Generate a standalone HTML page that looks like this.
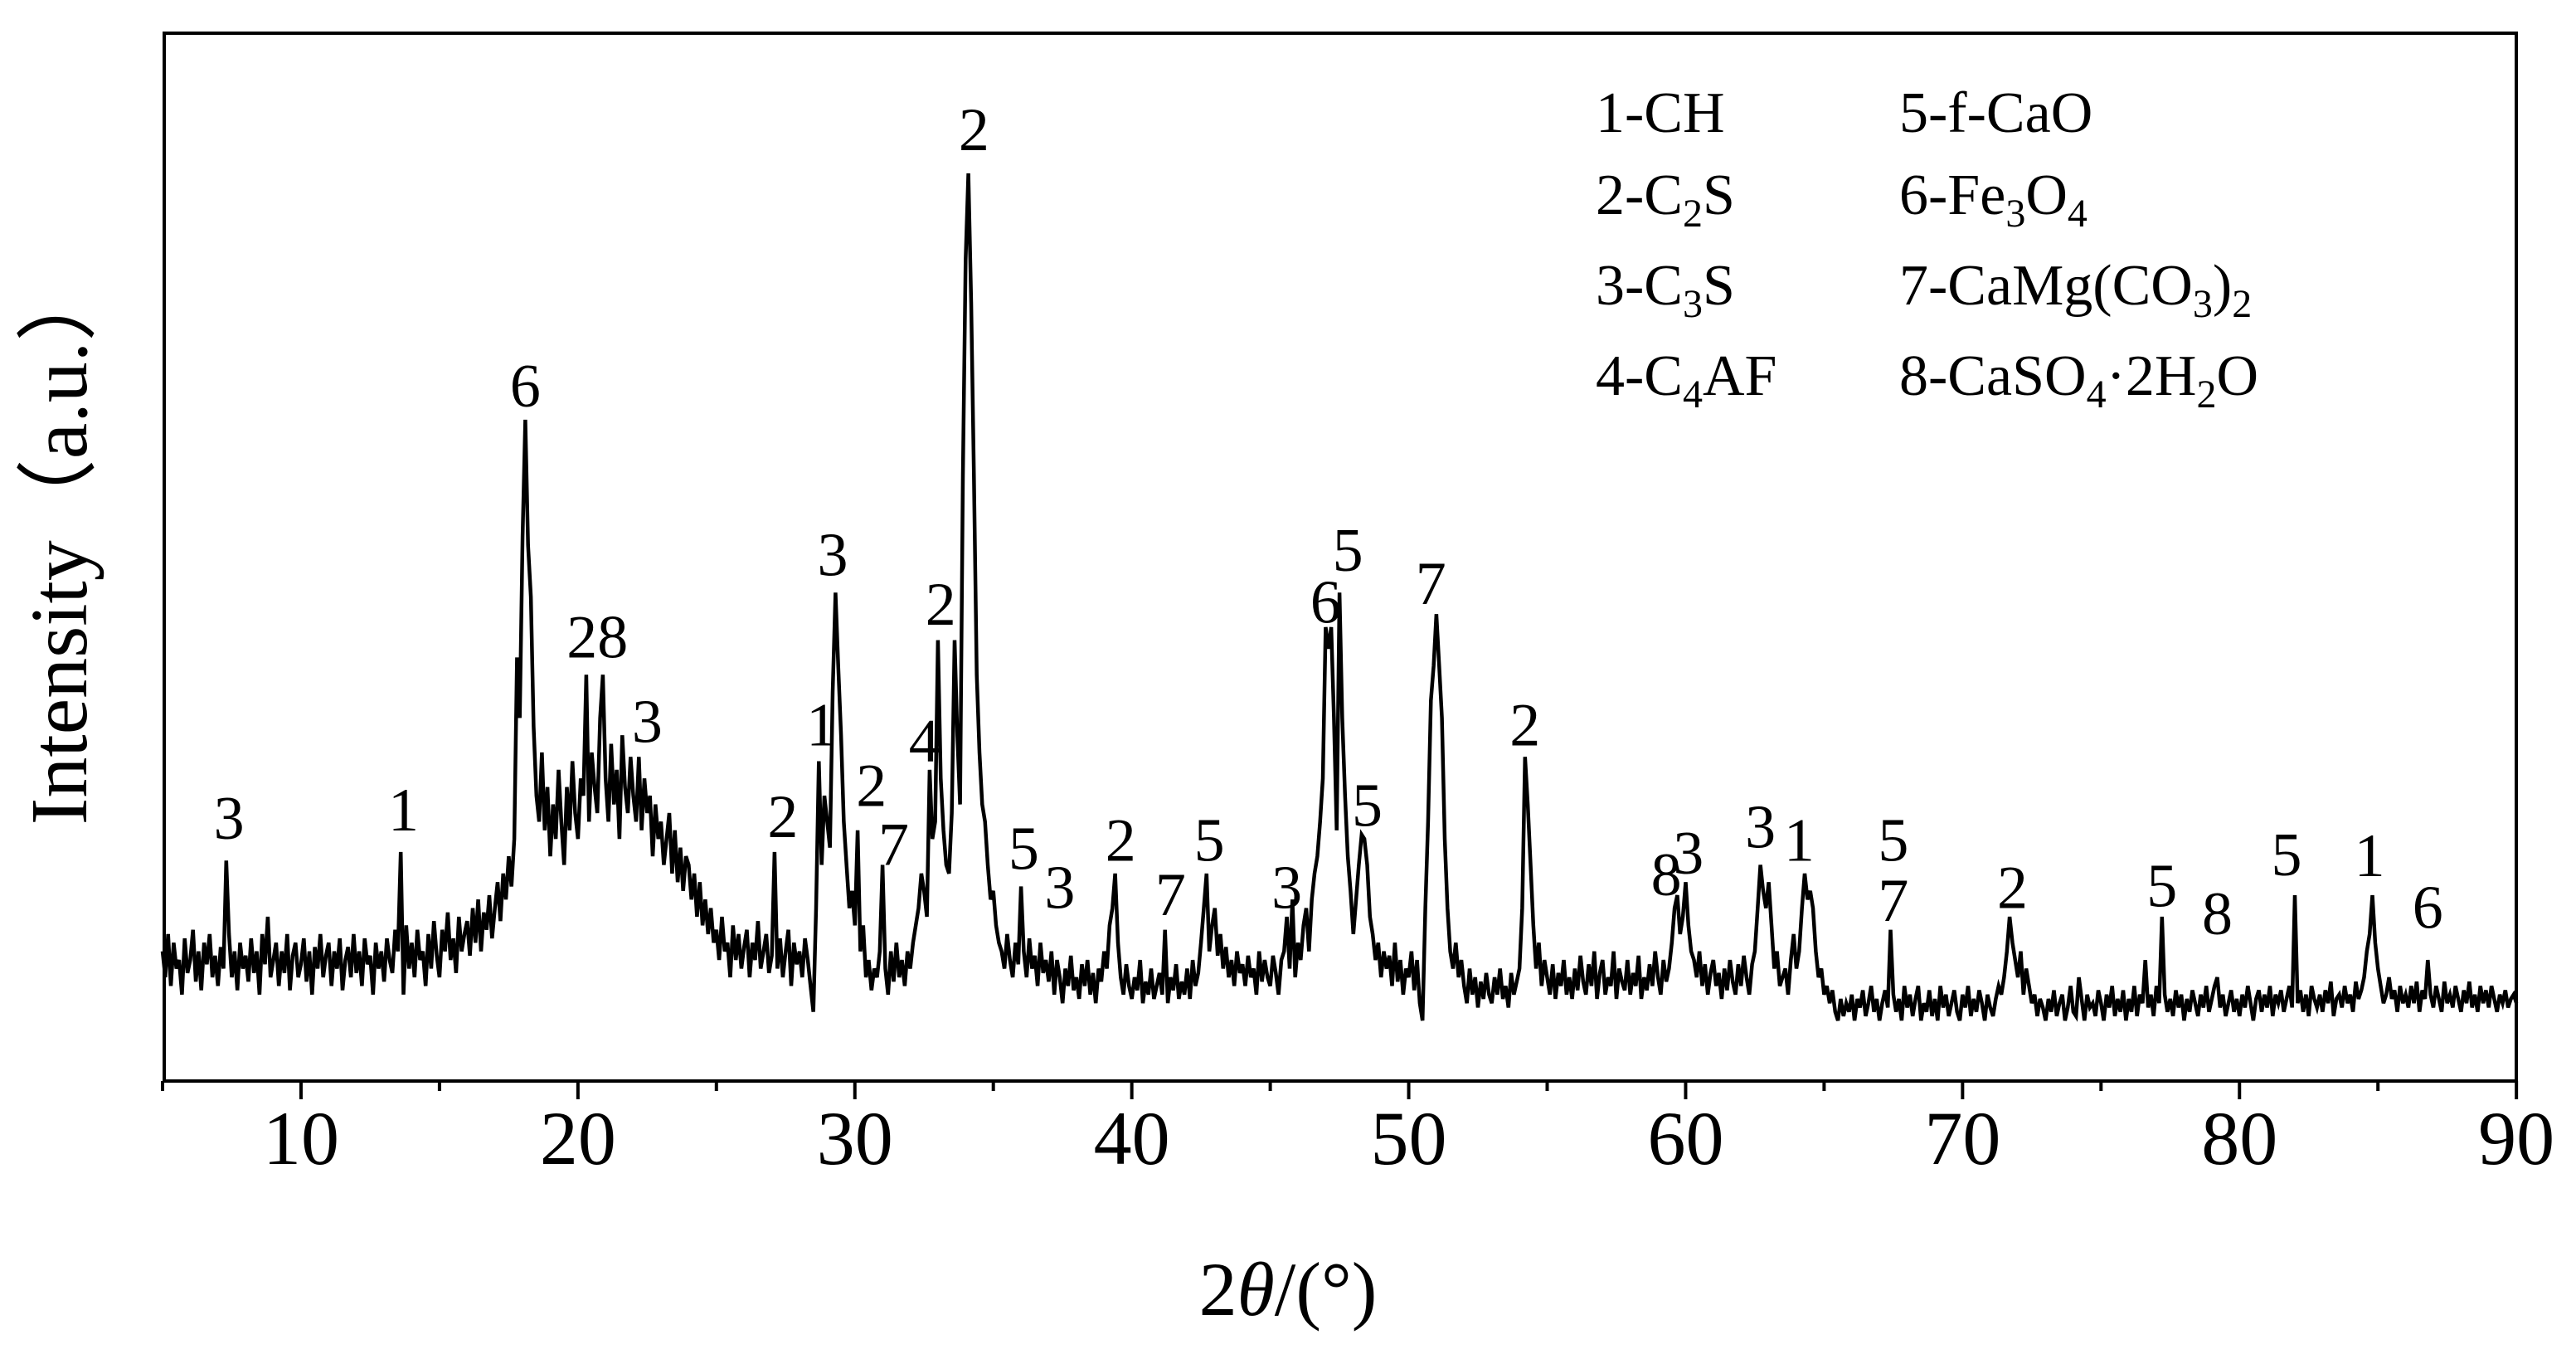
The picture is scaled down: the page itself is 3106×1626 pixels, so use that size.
<!DOCTYPE html>
<html><head><meta charset="utf-8"><style>
html,body{margin:0;padding:0;background:#fff;}
svg{display:block;font-family:"Liberation Serif","Times New Roman",serif;}
</style></head><body>
<svg id="chart" width="3106" height="1626" viewBox="0 0 3106 1626">
<rect x="0" y="0" width="3106" height="1626" fill="#fff"/>
<g id="plot"></g>
<rect x="198" y="40" width="2836" height="1263" fill="none" stroke="#000" stroke-width="4"/>
<g id="xaxis"></g>
<g id="labels"></g>
<text x="1553" y="1585" font-size="92" text-anchor="middle">2<tspan font-style="italic">θ</tspan>/(°)</text>
<text transform="translate(104,654) rotate(-90)" font-size="98" text-anchor="middle">Intensity（a.u.）</text>
<g font-size="70">
<text x="1924" y="159">1-CH</text>
<text x="1924" y="258">2-C<tspan font-size="48" dy="15">2</tspan><tspan dy="-15">S</tspan></text>
<text x="1924" y="367">3-C<tspan font-size="48" dy="15">3</tspan><tspan dy="-15">S</tspan></text>
<text x="1924" y="476">4-C<tspan font-size="48" dy="15">4</tspan><tspan dy="-15">AF</tspan></text>
<text x="2290" y="159">5-f-CaO</text>
<text x="2290" y="258">6-Fe<tspan font-size="48" dy="15">3</tspan><tspan dy="-15">O</tspan><tspan font-size="48" dy="15">4</tspan></text>
<text x="2290" y="367">7-CaMg(CO<tspan font-size="48" dy="15">3</tspan><tspan dy="-15">)</tspan><tspan font-size="48" dy="15">2</tspan></text>
<text x="2290" y="476">8-CaSO<tspan font-size="48" dy="15">4</tspan><tspan dy="-15">·2H</tspan><tspan font-size="48" dy="15">2</tspan><tspan dy="-15">O</tspan></text>
</g>
</svg>
<script>
const xStart = 5;
const xStep = 0.1;
const intensity = [
150,120,170,110,160,130,140,100,165,125,
140,175,115,150,105,160,135,170,120,145,
110,155,130,255,170,120,150,105,160,130,
145,115,165,125,150,100,170,135,190,120,
140,160,110,150,125,170,105,145,160,120,
135,165,115,150,100,155,130,170,120,145,
160,110,150,130,165,105,140,155,120,170,
125,150,110,165,135,145,100,160,130,150,
115,165,140,125,175,150,265,100,180,130,
160,120,175,140,150,110,170,130,185,145,
120,175,150,195,140,165,125,190,150,170,
185,145,200,160,210,150,195,175,215,165,
200,230,185,240,210,260,225,280,490,420,
630,765,620,560,410,330,300,380,290,340,
260,320,280,360,300,250,340,290,370,310,
280,350,330,470,300,380,340,310,420,470,
350,300,390,320,360,280,400,340,310,375,
330,300,375,290,350,310,330,260,320,280,
300,250,280,310,240,290,230,270,220,260,
250,210,240,190,230,180,210,170,200,160,
175,140,190,150,160,120,180,140,170,130,
155,175,120,160,140,185,130,150,170,125,
145,265,130,165,120,150,175,110,160,135,
150,120,165,140,110,80,200,370,250,330,
300,270,450,565,480,400,300,250,200,220,
180,290,150,180,120,140,105,130,120,150,
250,130,100,150,115,160,120,140,110,150,
130,160,180,200,240,220,190,360,280,300,
510,350,290,250,240,310,510,400,320,700,
950,1050,900,700,470,380,320,300,250,210,
220,180,160,150,130,170,140,120,160,135,
225,150,120,165,130,145,110,160,125,140,
115,150,100,140,120,90,130,110,145,105,
120,95,135,110,140,100,125,90,130,115,
150,130,180,200,240,160,120,100,135,110,
95,120,105,140,90,115,100,130,95,110,
125,100,175,90,120,105,135,95,115,100,
130,95,140,110,125,160,200,240,150,180,
200,145,170,130,155,120,140,110,150,125,
135,110,145,120,130,100,150,115,140,120,
110,145,125,100,140,150,190,130,210,120,
160,140,180,200,150,210,240,260,300,350,
525,500,525,420,290,565,420,330,260,220,
170,210,250,285,280,250,190,170,140,160,
120,150,130,145,110,160,115,140,100,130,
120,150,105,140,90,70,200,300,440,480,
540,480,420,280,200,150,130,160,120,140,
110,90,130,100,120,85,115,95,125,100,
90,120,100,130,95,110,85,125,100,115,
130,200,375,320,250,180,130,160,110,140,
120,100,135,95,125,110,140,100,120,95,
130,105,145,115,100,135,110,150,95,125,
140,100,120,110,150,95,130,115,105,140,
100,125,110,145,95,120,105,135,110,150,
120,100,140,115,130,160,200,215,170,190,
230,180,150,140,120,150,110,135,100,125,
140,110,125,95,130,105,140,115,100,135,
110,145,120,100,135,150,200,250,220,200,
230,180,130,150,110,120,130,100,140,170,
130,150,200,240,210,220,200,150,120,130,
100,110,90,105,80,70,95,75,90,80,
100,70,95,85,105,75,90,110,80,95,
70,90,105,85,175,100,80,95,70,110,
85,100,75,95,110,70,90,80,105,75,
95,70,110,85,100,75,90,105,80,70,
100,85,110,75,95,80,105,90,70,100,
85,75,95,110,100,120,150,190,160,140,
120,150,100,130,110,90,100,75,95,85,
70,95,80,105,75,90,100,70,85,110,
80,75,120,95,70,100,85,90,75,105,
90,70,100,85,110,75,95,80,105,70,
95,80,110,75,100,90,140,85,100,75,
110,90,190,100,80,95,75,105,85,100,
70,95,80,105,90,75,100,85,110,80,
95,110,120,85,100,75,90,105,80,95,
75,100,85,110,90,70,95,105,80,100,
85,110,75,100,90,105,80,95,110,85,
215,90,105,80,100,75,110,95,85,100,
80,105,90,115,75,95,100,85,110,90,
100,80,115,95,105,120,150,170,215,160,
130,110,90,100,120,95,105,80,110,90,
100,85,110,90,115,80,105,95,140,100,
85,110,95,80,115,90,100,85,110,95,
80,105,90,115,85,100,80,110,90,105,
85,110,95,80,100,90,105,85,95,100,
90];
const xTicks = [10,20,30,40,50,60,70,80,90];
const xMinorTicks = [5,15,25,35,45,55,65,75,85];
const labelText = ["3","1","6","28","3","2","1","3","2","7","4","2","2","5","3","2","7","5","3","6","5","5","7","2","8","3","3","1","5","7","2","5","8","5","1","6"];
const labelX = [7.4,13.7,18.1,20.7,22.5,27.4,28.8,29.2,30.6,31.4,32.5,33.1,34.3,36.1,37.4,39.6,41.4,42.8,45.6,47.0,47.8,48.5,50.8,54.2,59.3,60.1,62.7,64.1,67.5,67.5,71.8,77.2,79.2,81.7,84.7,86.8];
const labelI = [280,290,780,490,392,282,388,585,318,250,370,528,1077,245,200,255,192,255,200,530,590,295,552,388,215,240,270,255,255,185,200,202,170,238,237,177];

const NS = "http://www.w3.org/2000/svg";
function xs(v){ return 196 + (v - 5) * 33.39; }
function ys(v){ return 1303 - v * 1.042; }

const plot = document.getElementById('plot');
let d = "";
intensity.forEach((v,i)=>{ const x = xStart + i*xStep; d += (i?"L":"M") + xs(x).toFixed(1) + " " + ys(v).toFixed(1); });
const path = document.createElementNS(NS,'path');
path.setAttribute('d', d);
path.setAttribute('fill','none');
path.setAttribute('stroke','#000');
path.setAttribute('stroke-width','4.5');
path.setAttribute('stroke-linejoin','miter');


plot.appendChild(path);

const xaxis = document.getElementById('xaxis');
xTicks.forEach(t=>{
  const l = document.createElementNS(NS,'line');
  l.setAttribute('x1',xs(t)); l.setAttribute('x2',xs(t));
  l.setAttribute('y1',1303); l.setAttribute('y2',1325);
  l.setAttribute('stroke','#000'); l.setAttribute('stroke-width','4');
  
  
  xaxis.appendChild(l);
  const tx = document.createElementNS(NS,'text');
  tx.setAttribute('x',xs(t)); tx.setAttribute('y',1403);
  tx.setAttribute('font-size','92'); tx.setAttribute('text-anchor','middle');
  tx.textContent = t;
  
  
  xaxis.appendChild(tx);
});
xMinorTicks.forEach(t=>{
  const l = document.createElementNS(NS,'line');
  l.setAttribute('x1',xs(t)); l.setAttribute('x2',xs(t));
  l.setAttribute('y1',1303); l.setAttribute('y2',1315);
  l.setAttribute('stroke','#000'); l.setAttribute('stroke-width','4');
  
  
  xaxis.appendChild(l);
});

const labels = document.getElementById('labels');
labelText.forEach((s,i)=>{
  const tx = document.createElementNS(NS,'text');
  tx.setAttribute('x',xs(labelX[i])); tx.setAttribute('y',ys(labelI[i]));
  tx.setAttribute('font-size','74'); tx.setAttribute('text-anchor','middle');
  tx.textContent = s;
  
  
  labels.appendChild(tx);
});
</script>
</body></html>
